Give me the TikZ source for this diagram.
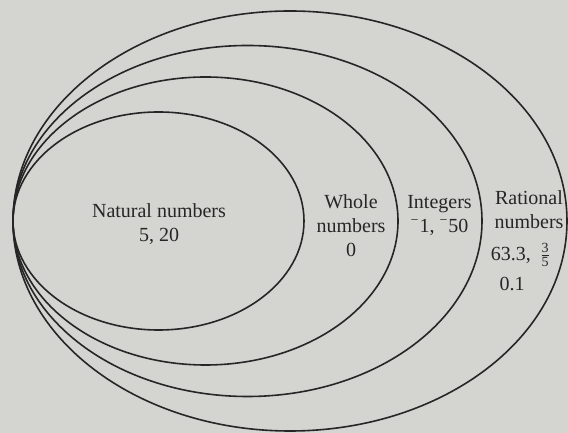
\documentclass[tikz,border=0pt]{standalone}
\usepackage{fontspec}
\setmainfont{Liberation Serif}
\usepackage{tkz-euclide}
\definecolor{PaperClr}{rgb}{0.83,0.83,0.82}
\definecolor{InkClr}{rgb}{0.15,0.15,0.15}

\begin{document}
\begin{tikzpicture}[x=0.5pt,y=0.5pt,font=\fontsize{10}{12}\selectfont,
  set/.style={line width=0.8pt,color=InkClr},
  lbl/.style={align=center,inner sep=0pt,text=InkClr}]
\fill[PaperClr] (0,0) rectangle (568,433);
\useasboundingbox (0,0) rectangle (568,433);

% Centres of the four sets, all touching at the left.
\tkzDefPoint(158.5,212){N}
\tkzDefPoint(205.5,212){W}
\tkzDefPoint(247.5,212){Z}
\tkzDefPoint(290,212){Q}

\draw[set] (N) ellipse [x radius=145.5, y radius=109];
\draw[set] (W) ellipse [x radius=192.5, y radius=144];
\draw[set] (Z) ellipse [x radius=234.5, y radius=175.5];
\draw[set] (Q) ellipse [x radius=277, y radius=210];

\node[lbl] (natural) at (159,209) {Natural numbers\\5, 20};
\node[lbl] (whole) at (351,207) {Whole\\numbers\\0};
\node[lbl] (integers) at (439.5,218) {Integers\\\textsuperscript{\textminus}1, \textsuperscript{\textminus}50};
\node[lbl] (rational) at (529,223) {Rational\\numbers};
\node[lbl] (ratvals) at (521,178) {63.3, \,$\frac{\mbox{\scriptsize 3}}{\mbox{\scriptsize 5}}$};
\node[lbl] (ratdec) at (512,149) {0.1};

\end{tikzpicture}
\end{document}
